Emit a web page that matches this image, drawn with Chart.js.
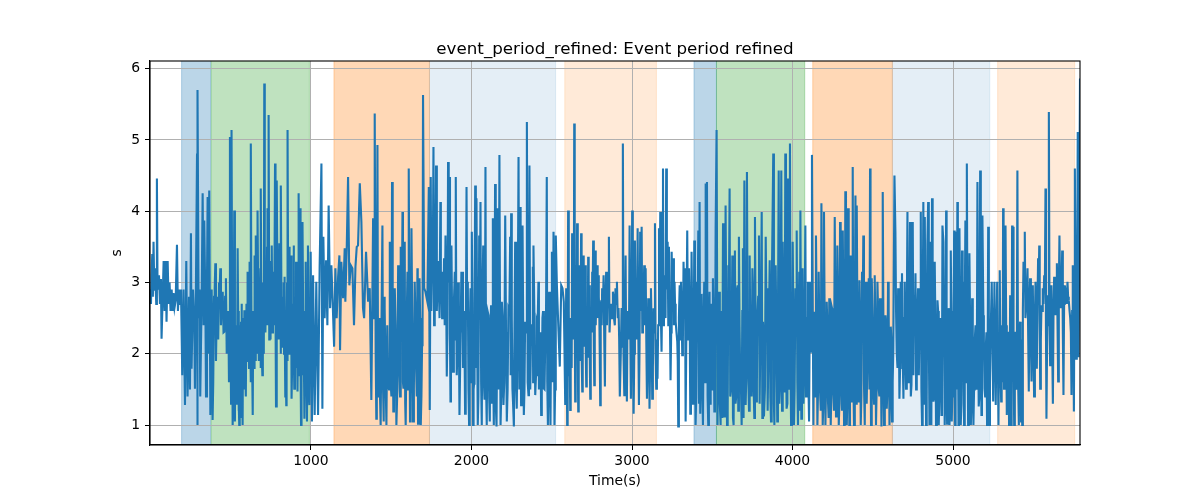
<!DOCTYPE html>
<html><head><meta charset="utf-8">
<script src="https://cdn.jsdelivr.net/npm/chart.js@4.4.1/dist/chart.umd.min.js"></script>
<style>html,body{margin:0;padding:0;background:#fff;}#wrap{width:1200px;height:500px;}</style>
</head><body><div id="wrap"><canvas id="c" width="1200" height="500"></canvas></div>
<script>
const chartTitle = 'event_period_refined: Event period refined';
const xLabel = 'Time(s)';
const yLabel = 's';
const xTicks = [1000, 2000, 3000, 4000, 5000];
const yTicks = [1, 2, 3, 4, 5, 6];

// main readings (peaks / troughs)
const times = [
0,3,7,11,15,19,24,28,36,40,44,53,59,65,69,76,82,88,94,100,107,113,119,125,132,138,144,150,157,165,171,177,184,190,
198,206,215,223,231,240,246,252,256,265,273,277,283,290,292,294,300,306,310,319,325,331,335,342,346,352,356,360,366,373,
381,387,396,404,412,418,427,435,443,450,460,470,481,489,495,502,506,512,518,522,526,535,543,549,553,560,564,570,574,580,
585,591,595,601,605,612,616,622,626,632,637,643,647,653,657,664,668,674,678,684,688,693,697,703,709,713,720,726,730,736,
743,747,751,757,763,767,776,782,788,795,803,809,813,819,824,830,834,840,846,851,855,861,865,871,876,880,886,892,896,903,
907,913,917,923,930,934,938,944,948,955,959,967,975,
981,990,998,1006,1013,1023,1033,1044,1054,1065,1071,1077,1085,1094,1102,1110,1119,1127,1135,1144,1152,1160,1169,1177,1181,
1189,1200,1210,1214,1223,1231,1239,1248,1258,1268,1277,1285,1293,1304,1314,1324,1331,1343,1356,1366,1376,1387,1393,1397,
1403,1407,1414,1422,1428,1434,1445,1453,1459,1470,1480,1491,1497,1505,1513,1522,1532,1543,1551,1559,1570,1576,1584,1590,
1601,1609,1617,1626,1636,1646,1655,1663,1667,1676,1684,1692,1698,1705,1713,1725,1734,1740,1746,1754,1763,1771,1779,1788,
1796,1806,1813,1821,1829,1838,1846,1854,1863,1869,1875,1885,1896,1902,1908,1917,1925,1937,
1944,1950,1960,1969,1977,1985,1994,2002,2010,2016,2023,2031,2039,2048,2056,2064,2073,2081,2087,2095,2106,2114,2122,2127,
2133,2139,2147,2156,2164,2174,2181,2189,2199,2210,2220,2230,2241,2247,2255,2264,2272,2282,2293,2303,2309,2318,2326,2334,
2345,2355,2361,2372,2382,2386,2397,2407,2417,2424,2434,2442,2451,2459,2469,2476,2484,2492,2501,2511,2517,2525,2532,2542,
2550,2559,2567,2575,2584,2590,2596,2602,2609,2615,2621,2627,2634,2640,2646,2652,2658,2665,2671,2677,2683,2690,2696,2702,
2708,2715,2721,2727,2733,2740,2746,2752,2758,2765,2771,2777,2783,2789,2796,2802,2808,2814,2823,2831,2839,2848,2856,2864,
2872,2881,2889,2897,2906,2916,2924,
2935,2943,2952,2960,2968,2976,2985,2993,3001,3010,3018,3026,3035,3043,3051,3060,3068,3076,3085,3093,3101,3109,3118,3126,
3134,3143,3151,3159,3168,3176,3184,3193,3199,3205,3213,3222,3230,3240,3247,3257,3265,3272,3282,3288,3297,3305,3313,3321,
3330,3334,3344,3355,3363,3371,3380,3388,3396,3405,3413,3421,3425,3434,3442,3450,3459,3467,3475,3483,3490,3498,3504,3513,
3521,3527,3533,3542,3552,3558,3567,3575,3583,3592,3600,3608,3617,3625,3633,3641,3650,3658,3666,3675,3683,3691,3700,3708,
3716,3725,3733,3741,3750,3758,3766,3774,3781,3791,3799,3808,3816,3822,3833,3841,3849,3858,3866,3874,3880,3887,3895,
3905,3914,3922,3930,3939,3947,3955,3963,3972,3980,3984,3991,4001,4009,4018,4026,4034,4042,4049,4055,4063,4072,4080,4088,
4096,4103,4109,4117,4121,4130,4138,4146,4155,4163,4171,4180,4188,4196,4205,4213,4221,4229,4238,4246,4254,4263,4271,4279,
4288,4296,4304,4313,4321,4329,4338,4346,4354,4362,4371,4375,4383,4392,4400,4408,4417,4425,4433,4441,4450,4458,4466,4475,
4483,4489,4495,4504,4512,4520,4529,4537,4545,4554,4562,4570,4579,4587,4595,4604,4612,4620,4628,4635,4641,4649,4658,4666,
4674,4682,4691,4699,4707,4716,4724,4732,4741,4749,4757,4766,4774,4782,4791,4799,4807,4815,4824,4832,4840,4845,4853,
4861,4865,4869,4878,4886,4894,4903,4911,4919,4928,4934,4940,4948,4957,4963,4971,4978,4986,4992,4998,5007,5013,5019,5027,
5034,5040,5048,5056,5063,5069,5077,5086,5094,5102,5111,5119,5127,5135,5144,5152,5160,5169,5177,5183,5189,5196,5204,5212,
5219,5227,5233,5241,5250,5258,5266,5275,5283,5291,5300,5306,5312,5318,5327,5335,5343,5349,5356,5362,5368,5374,5381,5389,
5395,5401,5410,5418,5424,5431,5439,5447,5455,5464,5472,5480,5489,5497,5505,5514,5522,5530,5537,5543,5551,5559,5568,5576,
5582,5591,5597,5605,5613,5622,5630,5638,5647,5655,5663,5672,5680,5688,5696,5705,5713,5721,5730,5738,5746,5753,5759,5765,
5771,5777,5782,5791
];

const values = [
2.9,2.7,3.1,3.4,2.8,3.57,2.9,3.2,2.7,4.46,2.9,3.1,2.7,3.05,2.21,2.8,3.3,2.6,3.3,2.45,3.3,2.7,3.0,2.6,2.9,2.6,2.85,2.65,2.75,3.53,2.6,2.9,2.7,2.9,
1.70,2.9,1.28,3.3,1.40,2.8,1.5,3.69,1.79,2.9,2.4,1.51,2.9,4.81,1.0,5.70,2.5,2.9,1.40,2.8,4.25,2.4,3.87,2.7,1.40,3.0,4.20,2.0,4.29,1.14,
2.9,1.07,2.8,3.27,2.5,2.45,3.0,3.20,2.7,2.87,2.31,3.06,2.50,1.6,5.04,1.3,5.14,1.00,2.0,4.01,1.05,1.3,3.48,1.2,1.00,2.0,2.45,1.1,1.00,2.2,
2.61,1.7,1.40,2.3,3.15,2.5,3.29,2.1,4.95,2.0,1.14,2.5,3.38,2.6,3.66,2.8,4.01,2.5,2.73,3.2,4.32,2.0,1.70,3.0,5.79,2.9,3.01,3.5,4.04,5.35,
2.9,2.92,3.3,3.52,2.8,3.15,4.67,1.26,4.43,2.7,3.55,2.9,4.36,2.8,2.45,3.0,3.08,1.40,1.28,3.0,5.14,2.8,3.50,2.9,3.38,1.37,2.6,3.52,1.51,2.8,
3.29,2.2,1.47,4.25,2.5,4.04,1.00,2.7,3.85,2.0,1.09,3.29,1.05,
3.52,1.28,3.43,1.05,3.10,1.14,3.01,1.14,3.24,4.67,1.23,3.64,2.50,3.31,2.40,4.08,2.64,3.24,2.73,2.10,3.20,2.50,3.08,3.38,2.05,
3.29,2.78,3.48,2.73,3.52,4.48,2.96,3.24,3.20,2.40,3.22,3.50,3.52,4.39,3.85,2.64,2.50,3.43,2.73,2.92,1.35,3.90,2.5,5.37,
2.0,1.09,4.93,2.45,1.6,1.00,3.80,1.05,2.64,1.00,1.56,3.57,1.58,4.41,1.19,2.92,1.00,3.24,1.75,3.50,3.99,1.51,3.57,1.00,
3.15,4.60,1.05,3.76,1.05,3.01,1.79,3.20,1.02,3.06,1.00,2.12,5.63,2.92,2.87,2.73,4.34,1.21,4.48,3.15,4.90,2.96,4.64,3.01,
2.96,4.13,2.87,3.15,3.34,3.66,1.68,4.69,4.48,1.33,3.52,1.75,3.15,4.48,1.70,3.0,1.14,3.15,
3.15,2.45,1.16,4.34,3.01,1.00,2.92,3.71,1.00,1.58,4.36,4.18,1.00,3.66,4.13,1.00,3.52,1.37,4.62,1.00,2.54,1.05,2.68,1.51,
3.90,1.00,4.38,0.98,4.04,4.79,1.00,2.73,1.28,3.94,1.05,2.64,3.64,3.97,1.51,0.98,3.57,1.23,4.76,4.06,1.28,3.80,1.14,2.45,
5.25,1.42,4.64,2.40,3.22,3.52,1.42,2.45,3.01,1.82,1.14,2.50,1.51,2.12,4.48,1.00,2.87,1.00,3.43,3.71,1.00,3.66,2.96,2.31,
1.82,2.96,2.92,2.73,1.28,2.92,1.00,4.01,1.70,1.21,2.21,3.69,3.15,5.23,1.33,3.24,3.83,1.19,3.24,2.21,3.69,1.47,3.38,2.87,
3.24,1.54,1.96,3.36,2.96,1.37,2.54,3.15,3.59,1.56,3.45,2.82,3.24,3.10,2.61,1.28,2.75,2.92,3.10,1.54,3.15,2.96,3.64,2.54,
2.61,2.87,2.47,2.92,3.01,2.64,1.40,
2.64,4.95,1.42,3.38,1.33,2.40,3.80,1.37,4.01,1.16,3.59,2.92,3.76,1.28,3.71,3.78,2.45,3.24,3.20,1.37,2.78,1.23,2.92,1.37,
2.64,3.83,1.51,1.65,3.76,3.99,2.03,4.60,2.82,2.82,4.60,3.57,3.50,1.63,3.43,3.34,3.01,2.45,2.17,0.98,2.96,3.01,1.98,3.29,
3.20,1.05,3.73,3.20,1.16,3.43,1.30,3.59,1.00,3.01,3.73,4.13,1.16,2.84,1.00,3.01,4.39,4.41,1.00,2.87,1.84,2.50,3.06,1.19,
3.76,5.14,1.00,2.87,1.00,2.40,3.83,1.12,4.08,1.00,3.24,4.32,1.51,3.38,1.00,3.45,1.42,2.96,3.64,1.51,1.00,3.48,4.43,1.28,
4.55,1.61,3.38,2.47,3.20,1.51,3.92,1.33,2.52,3.66,2.10,3.99,2.45,1.12,3.64,2.92,1.93,3.31,1.05,3.57,4.81,1.00,3.24,
1.05,4.57,1.51,4.57,3.57,1.47,4.81,1.23,4.46,1.51,4.95,1.00,3.57,1.00,2.92,3.73,1.00,3.15,4.01,1.09,3.20,1.70,3.80,1.98,
3.01,1.05,3.01,2.03,4.79,1.00,2.59,3.66,1.00,3.15,1.51,4.11,1.00,3.99,1.00,2.73,1.33,2.78,1.00,2.64,1.47,3.92,1.12,3.52,
1.00,3.85,1.51,3.73,1.00,4.28,1.00,4.04,1.00,3.38,1.33,4.62,1.00,4.22,4.08,1.33,3.03,1.00,3.15,3.66,1.00,3.01,1.84,3.06,
4.60,1.00,3.06,1.51,3.10,1.00,3.01,1.51,2.78,0.98,4.27,1.00,2.54,1.23,3.01,1.00,2.38,1.05,2.07,4.50,3.71,2.03,2.92,1.37,
3.01,3.13,1.37,3.01,1.51,3.99,2.07,3.85,1.56,3.85,2.82,3.13,1.98,2.92,2.45,3.99,1.00,4.13,3.92,1.00,3.52,4.13,1.00,
3.57,1.00,4.18,1.33,3.29,1.00,2.75,1.00,2.36,1.14,3.80,3.57,1.00,4.01,1.02,2.64,1.00,3.45,1.05,2.03,3.73,1.00,3.71,4.13,
1.00,3.76,1.00,3.45,3.01,1.00,3.87,4.67,1.00,3.41,1.00,2.78,1.00,2.17,1.51,4.41,1.26,4.57,1.14,3.94,2.54,1.51,2.07,1.00,
3.78,1.00,2.12,3.01,1.33,3.01,1.28,3.01,1.00,3.17,1.33,1.79,4.04,1.51,3.80,1.14,2.31,1.00,2.82,1.00,3.80,3.78,1.00,2.31,
1.51,4.57,1.00,2.45,1.05,1.00,3.29,3.71,2.64,3.20,1.47,3.06,1.61,2.96,1.40,3.01,1.79,3.34,3.52,1.51,2.68,2.92,3.10,4.32,
1.09,2.82,5.39,1.84,2.96,1.30,3.08,2.54,3.27,1.61,3.66,2.64,3.45,1.42,2.96,2.82,3.01,2.75,2.50,1.42,3.24,1.19,4.60,1.93,
1.93,5.11,1.95,5.86
];

// additional readings of the dense band between the spikes
const bandTimes = [
384,391,400,408,415,422,431,439,447,455,465,475,485,492,498,504,509,515,520,530,539,546,551,556,562,567,572,577,582,588,593,598,603,608,614,619,624,629,634,640,645,650,655,660,666,671,676,681,686,691,700,706,711,716,723,728,733,740,745,749,754,760,765,771,779,785,792,799,806,811,816,822,827,832,837,843,848,853,858,863,868,874,878,883,889,894,900,905,910,915,920,927,932,936,941,946,951,957,963,971,979,985,
1410,1418,1425,1431,1440,1449,1456,1465,1475,1486,1494,1501,1509,1517,1527,1538,1547,1555,1565,1573,1580,1587,1596,1605,1613,1621,1631,1641,1650,1659,1665,1672,1680,1688,1695,
1750,1759,1767,1775,1784,1792,1801,1809,1817,1825,1833,1842,1850,1858,1866,1872,1880,1890,1899,1905,1912,1921,1931,1940,1947,1955,1964,1973,1981,1989,1998,2006,2013,2019,2027,2035,2043,2052,2060,2068,2077,2084,2091,2100,2110,2118,2124,2130,2136,2143,2151,2160,2169,2178,2185,2194,2204,2215,2225,2236,2244,2251,2259,2268,2277,2288,2298,2306,2313,2322,2330,2340,2350,2358,2366,2377,2384,2392,2402,2412,2420,2429,2438,2446,2455,2464,2472,2480,2488,2497,2506,2514,2521,
2593,2599,2606,2612,2618,2624,2631,2637,2643,2649,2655,2662,2668,2674,2680,2686,2693,2699,2705,2712,2718,2724,2730,2737,2743,2749,2755,2762,2768,2774,2780,2786,2793,2799,2805,2811,2819,2827,2835,2844,2852,2860,2868,2876,2885,2893,2902,2911,2920,2930,2939,2947,2956,2964,2972,2981,2989,2997,3005,3014,3022,3031,3039,3047,3055,3064,3072,3080,3089,3097,3105,3113,3122,3130,3138,3147,3155,
3163,3172,3180,3188,3196,3202,3209,3217,3226,3235,3244,3252,3261,3268,3277,3285,3292,3301,3309,3317,3325,3339,3349,3359,3367,3375,3384,
3392,3400,3409,3417,3430,3438,3446,3455,3463,3471,3479,3487,3494,3501,3509,3517,
3537,3547,3555,3562,3571,3579,3587,3596,3604,3612,3621,3629,3637,3645,3654,3662,3670,3679,3687,3695,3704,3712,3720,3729,3737,3745,3754,3762,3770,3778,3786,3795,3803,3812,3819,3828,3837,3845,3853,3862,3870,3884,3891,
3909,3918,3926,3935,3943,3951,3959,3968,3976,3987,3996,4005,4013,4022,4030,4038,4046,4059,4068,4076,4084,4092,4099,
4134,4142,4150,4159,4167,4176,4184,4192,4200,4209,4217,4225,4233,4242,4250,4258,4267,4275,4284,4292,4300,4308,4317,4325,4333,4342,4350,4358,4366,4379,4388,4396,4404,4412,4421,4429,4437,4445,4454,4462,4470,4479,4486,4492,4499,4508,4516,4524,4533,4541,4549,4558,4566,4575,4583,4591,4599,4608,4616,4624,
4645,4654,4662,4670,4678,4687,4695,4703,4712,4720,4728,4737,4745,4753,4762,4770,4778,4787,4795,4803,4811,4820,4828,4836,4849,4857,4873,4882,4890,4899,4907,4915,4924,4931,4944,4952,4960,4967,4974,4982,4989,4995,5003,5010,5016,5023,5030,5037,5044,5052,5060,5066,5073,5081,5090,5098,5106,5115,5123,5131,5140,5148,5156,5164,5173,5180,5192,5200,5208,5215,5223,5230,
5287,5295,5303,5309,5315,5322,5331,5339,5346,5352,5359,5365,5371,5377,5385,5392,5398,5405,5414,5421,5428,5435,5443,5451,5459,5468,5476,5485,5493,5501,5510,5518,5526,5533,5540,5547,5555,5563,5572,5579,5587,5594,5601,5609,5617,5626,5634,5643,5651,5659,5668,5676,5684,5692,5700,5709,5717,5726,5734,5742,5750,5756
];

const bandValues = [
2.5,1.6,2.9,1.9,2.8,2.2,2.9,2.4,2.7,2.3,2.8,2.0,2.6,1.8,2.4,1.6,2.6,1.4,2.5,2.4,1.5,2.6,1.3,2.4,1.4,2.7,1.3,2.5,1.5,2.4,1.6,2.7,1.9,2.6,1.8,2.7,1.6,2.5,1.7,2.6,1.8,2.8,1.9,2.7,2.0,2.8,1.9,2.6,1.8,2.5,2.6,2.0,2.9,2.3,2.7,2.4,2.8,2.2,2.7,2.2,2.9,2.3,2.8,2.4,2.6,2.1,2.7,2.2,2.8,2.0,2.7,2.1,2.7,2.0,2.6,1.8,2.5,1.9,2.6,2.0,2.7,2.1,2.6,1.9,2.7,2.0,2.6,1.8,2.7,1.9,2.5,1.7,2.6,1.8,2.5,1.7,2.6,1.6,2.5,1.8,2.6,1.5,
2.2,1.4,2.5,1.3,2.6,1.5,2.8,1.6,2.4,1.5,2.6,1.4,2.5,1.3,2.4,1.5,2.6,1.4,2.3,1.6,2.5,1.3,2.4,1.5,2.6,1.3,2.4,1.5,2.6,1.4,2.3,1.3,2.5,1.4,2.2,
2.6,3.3,2.4,3.2,2.6,3.3,2.5,3.0,2.5,2.7,2.4,2.9,2.3,3.0,2.2,2.8,2.3,2.7,2.2,2.6,2.0,2.4,2.1,2.3,1.8,2.6,1.9,2.5,1.5,2.3,1.6,2.5,1.5,2.7,1.8,2.4,1.4,2.6,1.6,2.8,1.6,2.3,1.5,2.6,1.4,2.4,1.3,2.5,1.6,2.6,1.3,2.4,1.5,2.2,1.4,2.5,1.6,2.3,1.5,2.6,1.7,2.5,1.3,2.4,1.6,2.6,1.5,2.5,1.6,2.4,1.5,2.3,1.6,2.6,1.5,2.4,1.6,2.5,1.7,2.4,1.5,2.3,1.6,2.6,1.5,2.4,1.6,2.3,1.5,2.6,1.6,2.5,1.5,
2.3,1.8,2.6,1.9,2.5,1.8,2.7,2.2,2.5,1.9,2.7,2.0,2.6,1.9,2.8,2.0,2.6,2.1,2.8,2.0,2.4,2.2,2.7,1.9,2.6,2.3,2.9,2.1,2.7,2.4,2.9,2.5,2.8,2.0,2.6,2.4,2.7,2.2,2.8,2.4,2.8,2.3,2.7,2.5,2.8,2.4,2.7,2.5,2.2,2.0,2.1,2.0,2.3,1.9,2.6,2.2,2.4,2.1,2.3,2.0,2.5,2.2,2.4,2.1,2.6,2.3,2.8,2.4,2.2,2.0,2.3,1.9,2.4,1.8,2.3,2.0,2.2,
2.4,2.8,2.5,2.9,2.4,3.1,2.5,2.9,2.4,2.7,2.3,2.8,2.4,2.7,2.3,1.9,2.5,2.2,2.6,2.2,2.7,2.4,2.2,2.6,1.8,2.5,1.9,
2.3,1.4,2.6,1.3,2.2,1.5,2.4,1.6,2.2,1.4,2.5,1.3,2.7,1.5,2.3,1.6,
2.2,1.3,2.6,1.1,2.8,1.6,2.5,1.2,2.9,1.4,2.3,1.1,2.7,1.3,2.9,1.2,2.4,1.5,2.6,1.1,2.8,1.7,2.5,1.2,2.2,1.4,2.9,1.1,2.4,1.6,2.8,1.3,2.6,1.1,2.3,1.5,2.7,1.2,2.5,1.4,2.8,1.3,2.6,
2.4,1.3,2.6,1.2,2.8,1.5,2.4,1.3,2.7,2.0,1.4,2.6,1.5,2.3,1.6,2.5,1.2,2.4,1.3,2.6,1.4,2.5,1.6,
2.4,1.4,2.7,1.5,2.3,1.2,2.6,1.3,2.5,1.6,2.4,1.1,2.3,1.5,2.6,1.2,2.4,1.6,2.7,1.3,2.5,1.2,2.6,1.5,2.3,1.4,2.7,1.3,2.5,1.6,2.4,1.3,2.6,1.5,2.4,1.4,2.5,1.6,2.6,1.3,2.4,1.5,2.2,1.6,2.5,1.3,2.4,1.5,2.6,1.4,2.3,1.6,2.5,1.2,2.4,1.5,2.6,1.4,2.2,1.6,
2.6,1.8,2.5,1.8,2.4,1.9,2.5,2.0,2.6,1.6,2.5,1.4,2.6,1.7,2.4,1.5,2.6,1.7,2.4,1.5,2.5,1.3,2.4,1.4,2.3,1.4,2.5,1.4,2.4,1.3,2.6,1.4,2.5,1.5,2.2,1.4,2.5,1.3,2.4,1.5,2.6,1.4,2.5,1.6,2.4,1.5,2.6,1.4,2.5,1.3,2.4,1.5,2.6,1.6,2.3,1.4,2.5,1.3,2.2,1.5,2.4,1.6,2.5,1.4,2.3,1.5,2.2,1.4,2.3,1.5,2.4,1.6,
2.2,1.8,2.4,1.6,2.5,1.9,2.4,1.7,2.2,1.6,2.3,1.8,2.5,1.9,2.2,1.8,2.6,1.7,2.3,1.8,2.2,2.6,2.9,2.5,2.8,2.3,2.7,2.2,2.6,2.1,2.5,2.2,2.7,2.8,2.4,2.2,2.6,2.7,2.9,2.3,2.4,2.6,2.5,2.4,2.3,2.6,2.8,2.7,2.4,2.9,2.7,2.9,2.3,2.7,2.9,2.7,2.8,2.6,2.3,2.6,2.2,2.9
];

const spanStart = [194, 379, 1143, 1738, 2581, 3386, 3526, 4126, 4622, 5278];
const spanEnd   = [375, 990, 1738, 2524, 3152, 3526, 4076, 4622, 5229, 5758];
const spanKind  = ['blue','green','orange','paleblue','paleorange','blue','green','orange','paleblue','paleorange'];

const spanFill = {
  blue: 'rgba(31,119,180,0.3)',
  green: 'rgba(44,160,44,0.3)',
  orange: 'rgba(255,127,14,0.3)',
  paleblue: 'rgba(31,119,180,0.12)',
  paleorange: 'rgba(255,127,14,0.16)'
};

const points = times.map((t, i) => ({x: t, y: values[i]}))
  .concat(bandTimes.map((t, i) => ({x: t, y: bandValues[i]})))
  .filter(p => p.y !== undefined)
  .sort((a, b) => a.x - b.x);

Chart.defaults.font.family = 'DejaVu Sans';
Chart.defaults.color = '#000';

const deco = {
  id: 'deco',
  beforeDraw(chart) {
    const {ctx, chartArea: a, scales: {x}} = chart;
    ctx.save();
    ctx.beginPath();
    ctx.rect(a.left, a.top, a.right - a.left, a.bottom - a.top);
    ctx.clip();
    spanStart.forEach((s, i) => {
      const x0 = x.getPixelForValue(s);
      const x1 = x.getPixelForValue(spanEnd[i]);
      ctx.fillStyle = spanFill[spanKind[i]];
      ctx.fillRect(x0, a.top, x1 - x0, a.bottom - a.top);
      ctx.strokeStyle = spanFill[spanKind[i]];
      ctx.lineWidth = 1;
      ctx.beginPath();
      ctx.moveTo(x0, a.top); ctx.lineTo(x0, a.bottom);
      ctx.moveTo(x1, a.top); ctx.lineTo(x1, a.bottom);
      ctx.stroke();
    });
    ctx.restore();
  },
  afterDraw(chart) {
    const {ctx, chartArea: a} = chart;
    ctx.save();
    ctx.strokeStyle = '#000';
    ctx.lineWidth = 1.1;
    ctx.strokeRect(a.left, a.top, a.right - a.left, a.bottom - a.top);
    ctx.fillStyle = '#000';
    ctx.font = '16.7px "DejaVu Sans"';
    ctx.textAlign = 'center';
    ctx.textBaseline = 'alphabetic';
    ctx.fillText(chartTitle, (a.left + a.right) / 2, 54);
    ctx.restore();
  }
};

new Chart(document.getElementById('c'), {
  type: 'line',
  data: {
    datasets: [{
      data: points,
      borderColor: '#1f77b4',
      borderWidth: 2.1,
      pointRadius: 0,
      tension: 0,
      fill: false
    }]
  },
  options: {
    responsive: false,
    animation: false,
    devicePixelRatio: 1,
    layout: {padding: {top: 61, left: 109, right: 120, bottom: 10}},
    plugins: {legend: {display: false}, tooltip: {enabled: false}, title: {display: false}},
    scales: {
      x: {
        type: 'linear',
        min: -3,
        max: 5791,
        afterFit(s) { s.height = 45; },
        afterBuildTicks(s) { s.ticks = xTicks.map(v => ({value: v})); },
        ticks: {font: {size: 13.9}, color: '#000', padding: 3, maxRotation: 0, autoSkip: false, callback: v => String(v)},
        grid: {color: '#b0b0b0', lineWidth: 1, tickLength: 5, tickColor: '#000', tickWidth: 1},
        border: {display: true, color: '#000', width: 1.1},
        title: {display: true, text: xLabel, font: {size: 13.9}, color: '#000', padding: 0}
      },
      y: {
        min: 0.72,
        max: 6.107,
        afterFit(s) { s.width = 41; },
        afterBuildTicks(s) { s.ticks = yTicks.map(v => ({value: v})); },
        ticks: {font: {size: 13.9}, color: '#000', padding: 5, autoSkip: false, callback: v => String(v)},
        grid: {color: '#b0b0b0', lineWidth: 1, tickLength: 5, tickColor: '#000', tickWidth: 1},
        border: {display: true, color: '#000', width: 1.1},
        title: {display: true, text: yLabel, font: {size: 13.9}, color: '#000', padding: 0}
      }
    }
  },
  plugins: [deco]
});
</script>
</body></html>
